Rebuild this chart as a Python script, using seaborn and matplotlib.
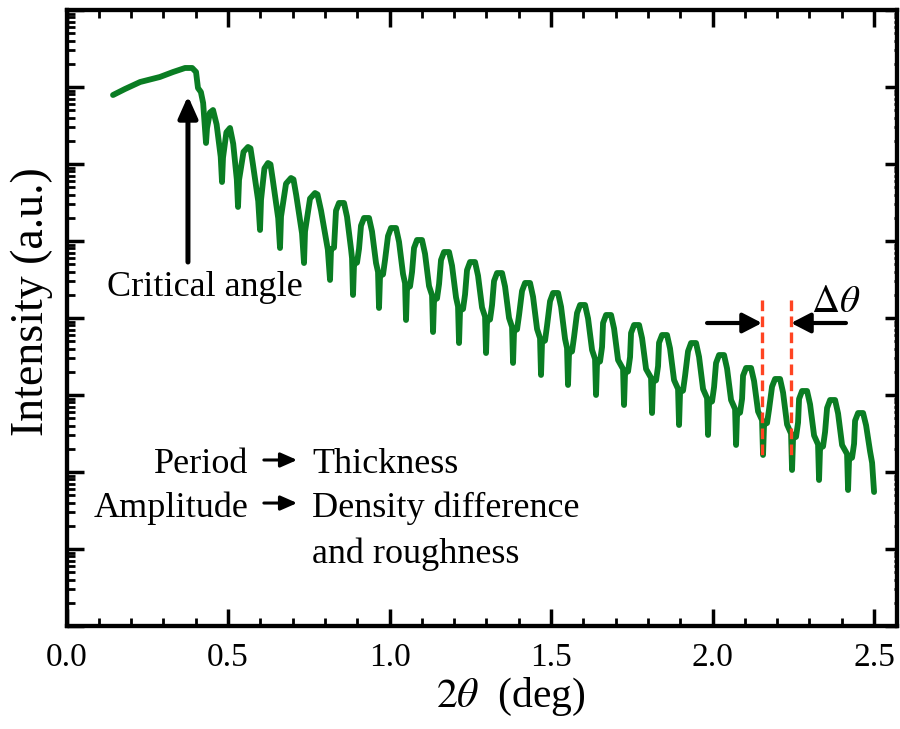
import numpy as np
import pandas as pd
import matplotlib
matplotlib.use("Agg")
import matplotlib.pyplot as plt
import seaborn as sns
from matplotlib.ticker import MultipleLocator, LogLocator, NullFormatter

# ---- data (2theta in deg, log10 of intensity) ----
two_theta = [
    0.144, 0.181, 0.228, 0.289, 0.330, 0.367, 0.389, 0.401, 0.407, 0.416, 0.423,
    0.4319, 0.4350, 0.4440, 0.4536, 0.4647, 0.4774,
    0.4814, 0.4845, 0.4950, 0.5062, 0.5161, 0.5272,
    0.5310, 0.5341, 0.5480, 0.5619, 0.5696, 0.5768, 0.5935,
    0.5991, 0.6022, 0.6127, 0.6238, 0.6315, 0.6387, 0.6554,
    0.6610, 0.6641, 0.6796, 0.6950, 0.7027, 0.7111, 0.7291,
    0.7353, 0.7384, 0.7539, 0.7693, 0.7770, 0.7879, 0.8090,
    0.8158, 0.8189, 0.8282, 0.8343, 0.8436, 0.8591, 0.8684, 0.8808, 0.8839,
    0.8870, 0.8901, 0.8994, 0.9056, 0.9117, 0.9210, 0.9365, 0.9458, 0.9582, 0.9644,
    0.9675, 0.9706, 0.9799, 0.9861, 0.9953, 1.0046, 1.0201, 1.0294, 1.0418, 1.0480,
    1.0511, 1.0542, 1.0635, 1.0697, 1.0758, 1.0851, 1.1006, 1.1099, 1.1223, 1.1316,
    1.1347, 1.1378, 1.1471, 1.1533, 1.1594, 1.1687, 1.1842, 1.1935, 1.2059, 1.2121,
    1.2152, 1.2183, 1.2276, 1.2338, 1.2399, 1.2492, 1.2647, 1.2740, 1.2864, 1.2957,
    1.2988, 1.3019, 1.3112, 1.3174, 1.3235, 1.3328, 1.3483, 1.3576, 1.3700, 1.3793,
    1.3824, 1.3855, 1.3948, 1.4010, 1.4102, 1.4195, 1.4350, 1.4443, 1.4567, 1.4659,
    1.4690, 1.4721, 1.4814, 1.4876, 1.4969, 1.5062, 1.5217, 1.5310, 1.5434, 1.5495,
    1.5526, 1.5557, 1.5650, 1.5712, 1.5805, 1.5898, 1.6053, 1.6146, 1.6270, 1.6362,
    1.6393, 1.6424, 1.6517, 1.6579, 1.6610, 1.6703, 1.6858, 1.6951, 1.7075, 1.7229,
    1.7260, 1.7291, 1.7384, 1.7446, 1.7477, 1.7570, 1.7725, 1.7818, 1.7942, 1.8096,
    1.8127, 1.8158, 1.8251, 1.8313, 1.8343, 1.8436, 1.8591, 1.8684, 1.8808, 1.8932,
    1.8963, 1.8994, 1.9087, 1.9149, 1.9241, 1.9334, 1.9489, 1.9582, 1.9706, 1.9830,
    1.9861, 1.9892, 1.9985, 2.0047, 2.0108, 2.0201, 2.0356, 2.0449, 2.0573, 2.0697,
    2.0728, 2.0759, 2.0852, 2.0914, 2.0944, 2.1037, 2.1192, 2.1285, 2.1409, 2.1532,
    2.1563, 2.1594, 2.1687, 2.1749, 2.1842, 2.1935, 2.2090, 2.2183, 2.2307, 2.2430,
    2.2461, 2.2492, 2.2585, 2.2647, 2.2678, 2.2771, 2.2926, 2.3019, 2.3143, 2.3266,
    2.3297, 2.3328, 2.3421, 2.3483, 2.3545, 2.3638, 2.3793, 2.3886, 2.4010, 2.4164,
    2.4195, 2.4226, 2.4319, 2.4381, 2.4412, 2.4505, 2.4660, 2.4753, 2.4877, 2.4939,
    2.5000,
]
log_intensity = [
    6.896, 6.974, 7.065, 7.130, 7.195, 7.247, 7.247, 7.195, 6.987, 6.935, 6.792,
    6.273, 6.465, 6.668, 6.701, 6.514, 6.094,
    5.766, 6.082, 6.412, 6.468, 6.262, 5.800,
    5.442, 5.792, 6.158, 6.221, 6.203, 6.005, 5.519,
    5.143, 5.534, 5.943, 6.013, 5.995, 5.792, 5.295,
    4.909, 5.318, 5.745, 5.818, 5.800, 5.597, 5.100,
    4.714, 5.123, 5.551, 5.623, 5.605, 5.397, 4.888,
    4.494, 4.894, 4.914, 5.394, 5.494, 5.494, 5.315, 4.896, 4.777,
    4.299, 4.699, 4.719, 4.899, 5.199, 5.299, 5.299, 5.124, 4.714, 4.598,
    4.130, 4.546, 4.566, 4.753, 5.065, 5.169, 5.169, 4.990, 4.571, 4.452,
    3.974, 4.390, 4.410, 4.597, 4.909, 5.013, 5.013, 4.834, 4.415, 4.296,
    3.818, 4.234, 4.254, 4.441, 4.753, 4.857, 4.857, 4.680, 4.266, 4.148,
    3.675, 4.096, 4.117, 4.306, 4.622, 4.727, 4.727, 4.550, 4.136, 4.018,
    3.545, 3.961, 3.981, 4.168, 4.480, 4.584, 4.584, 4.409, 4.000, 3.883,
    3.416, 3.832, 3.852, 4.039, 4.351, 4.455, 4.455, 4.276, 3.857, 3.738,
    3.260, 3.686, 3.707, 3.899, 4.218, 4.325, 4.325, 4.146, 3.727, 3.608,
    3.130, 3.546, 3.566, 3.753, 4.065, 4.169, 4.169, 3.994, 3.584, 3.468,
    3.000, 3.416, 3.436, 3.623, 3.935, 4.039, 4.039, 3.864, 3.454, 3.338,
    2.870, 3.286, 3.306, 3.493, 3.805, 3.909, 3.909, 3.738, 3.337, 3.223,
    2.766, 3.171, 3.191, 3.374, 3.678, 3.779, 3.779, 3.604, 3.194, 3.078,
    2.610, 3.036, 3.057, 3.249, 3.568, 3.675, 3.675, 3.496, 3.078, 2.959,
    2.481, 2.896, 2.917, 3.104, 3.415, 3.519, 3.519, 3.344, 2.935, 2.818,
    2.351, 2.751, 2.771, 2.951, 3.251, 3.351, 3.351, 3.181, 2.786, 2.673,
    2.221, 2.616, 2.636, 2.813, 3.109, 3.208, 3.208, 3.031, 2.617, 2.499,
    2.026, 2.436, 2.457, 2.642, 2.949, 3.052, 3.052, 2.879, 2.474, 2.358,
    1.896, 2.312, 2.332, 2.519, 2.831, 2.935, 2.935, 2.760, 2.350, 2.234,
    1.766, 2.166, 2.186, 2.366, 2.666, 2.766, 2.766, 2.606, 2.266, 2.120,
    1.740,
]

x_ticks = [0.0, 0.5, 1.0, 1.5, 2.0, 2.5]
x_tick_labels = ["0.0", "0.5", "1.0", "1.5", "2.0", "2.5"]
fringe_minima = [2.153, 2.243]   # red dashed guide lines

GREEN = "#0a7d23"
RED = "#ff4422"

sns.set_style("ticks")
plt.rcParams["font.family"] = ["Liberation Serif", "DejaVu Serif"]
plt.rcParams["mathtext.fontset"] = "stix"
for k in ("text.color", "axes.labelcolor", "xtick.color", "ytick.color",
          "xtick.labelcolor", "ytick.labelcolor"):
    plt.rcParams[k] = "black"

fig = plt.figure(figsize=(9, 7.29), dpi=100)
ax = fig.add_axes([66.5 / 900, 103 / 729, (897 - 66.5) / 900, 616 / 729])

df = pd.DataFrame({"two_theta": two_theta,
                   "intensity": np.power(10.0, np.array(log_intensity))})
sns.lineplot(data=df, x="two_theta", y="intensity", sort=False, estimator=None,
             color=GREEN, lw=4.2, ax=ax)

ax.set_yscale("log")
ax.set_ylim(1, 1e8)
ax.set_xlim(0, 2.571)

ax.set_xticks(x_ticks)
ax.set_xticklabels(x_tick_labels)
ax.xaxis.set_minor_locator(MultipleLocator(0.1))
ax.yaxis.set_major_locator(LogLocator(base=10, numticks=20))
ax.yaxis.set_minor_locator(LogLocator(base=10, subs=np.arange(2, 10), numticks=20))
ax.yaxis.set_major_formatter(NullFormatter())
ax.yaxis.set_minor_formatter(NullFormatter())

for s in ax.spines.values():
    s.set_visible(True)
    s.set_linewidth(3)
    s.set_color("black")

ax.tick_params(which="both", direction="in", top=True, right=False, color="black")
ax.tick_params(which="major", length=12, width=2.5, labelsize=24, pad=12)
ax.tick_params(which="minor", length=6, width=2)

# right side: same log axis, very short minor ticks
ax2 = ax.twinx()
ax2.set_yscale("log")
ax2.set_ylim(ax.get_ylim())
ax2.yaxis.set_major_locator(LogLocator(base=10, numticks=20))
ax2.yaxis.set_minor_locator(LogLocator(base=10, subs=np.arange(2, 10), numticks=20))
ax2.yaxis.set_major_formatter(NullFormatter())
ax2.yaxis.set_minor_formatter(NullFormatter())
ax2.tick_params(which="both", direction="in", color="black")
ax2.tick_params(which="major", length=9, width=2.5)
ax2.tick_params(which="minor", length=2.5, width=2)
for s in ax2.spines.values():
    s.set_linewidth(3)
    s.set_color("black")

ax.set_xlabel(r"$2\theta$  (deg)", fontsize=30, labelpad=2, x=0.535)
ax.set_ylabel("Intensity (a.u.)", fontsize=33)
ax.yaxis.set_label_coords(-0.016, 0.526)

def Y(ly):
    return 10.0 ** ly

# critical angle arrow + label
ax.annotate("", xy=(0.376, Y(6.883)), xytext=(0.376, Y(4.727)),
            arrowprops=dict(arrowstyle="-|>,head_length=0.65,head_width=0.29",
                            lw=3.6, color="black", shrinkA=0, shrinkB=0,
                            mutation_scale=20))
ax.text(0.429, Y(4.286), "Critical angle", fontsize=26, ha="center", va="baseline")

# Period / Amplitude annotations
ax.text(0.562, Y(1.987), "Period", fontsize=26, ha="right", va="baseline")
ax.text(0.562, Y(1.416), "Amplitude", fontsize=26, ha="right", va="baseline")
ax.text(0.760, Y(1.987), "Thickness", fontsize=26, ha="left", va="baseline")
ax.text(0.760, Y(1.416), "Density difference", fontsize=26, ha="left", va="baseline")
ax.text(0.760, Y(0.818), "and roughness", fontsize=26, ha="left", va="baseline")
for ly in (2.156, 1.597):
    ax.annotate("", xy=(0.714, Y(ly)), xytext=(0.611, Y(ly)),
                arrowprops=dict(arrowstyle="-|>,head_length=0.5,head_width=0.22",
                                lw=2.2, color="black", shrinkA=0, shrinkB=0,
                                mutation_scale=20))

# red dashed lines marking two fringe minima
for xm in fringe_minima:
    ax.plot([xm, xm], [Y(4.234), Y(2.156)], color=RED, lw=2.4,
            dashes=(3.2, 1.6))

# delta theta arrows + label
ax.annotate("", xy=(2.153, Y(3.935)), xytext=(1.983, Y(3.935)),
            arrowprops=dict(arrowstyle="-|>,head_length=0.58,head_width=0.3",
                            lw=3, color="black", shrinkA=0, shrinkB=0,
                            mutation_scale=20))
ax.annotate("", xy=(2.243, Y(3.935)), xytext=(2.413, Y(3.935)),
            arrowprops=dict(arrowstyle="-|>,head_length=0.58,head_width=0.3",
                            lw=3, color="black", shrinkA=0, shrinkB=0,
                            mutation_scale=20))
ax.text(2.382, Y(4.078), r"$\Delta\theta$", fontsize=28, ha="center", va="baseline")

fig.savefig("out.png", dpi=100)
